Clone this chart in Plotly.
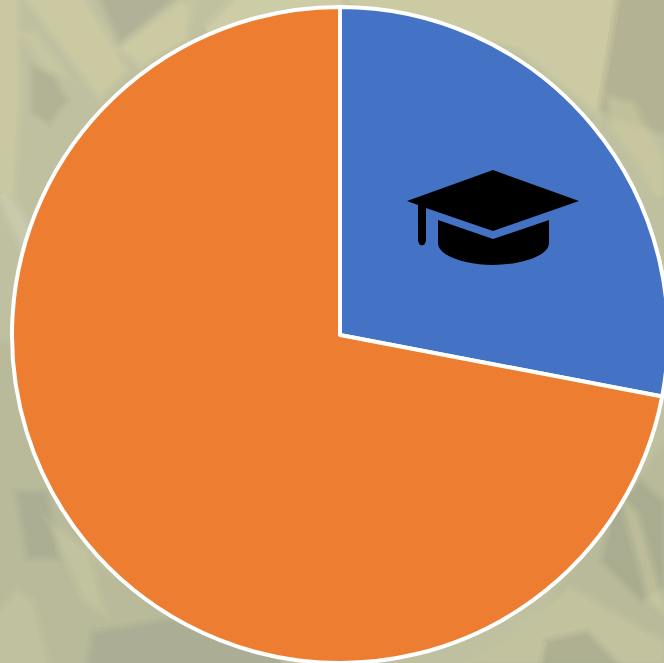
import plotly.graph_objects as go

labels = ["Graduates", "Others"]
values = [28, 72]
colors = ["#4472C4", "#ED7D31"]

FIG_W, FIG_H = 680, 670
ML, MR, MT, MB = 12, 12, 7, 7
PW, PH = FIG_W - ML - MR, FIG_H - MT - MB


def px(x):
    return (x - ML) / PW


def py(y):
    return 1 - (y - MT) / PH


def poly(points):
    return "M " + " L ".join(f"{px(x):.5f},{py(y):.5f}" for x, y in points) + " Z"


backdrop = [
    ("#D6D3A6", [(0, 0), (14, 0), (16, 100), (10, 190), (0, 190)]),
    ("#A3A38F", [(105, 0), (165, 0), (122, 36)]),
    ("#D9D5A6", [(32, 0), (80, 0), (122, 70), (100, 92)]),
    ("#DAD7AA", [(125, 48), (182, 6), (190, 6), (182, 38), (142, 62)]),
    ("#C3C5A4", [(190, 0), (228, 0), (194, 36)]),
    ("#DEDBB0", [(238, 0), (340, 0), (340, 5), (244, 18), (208, 30)]),
    ("#A5A68E", [(36, 72), (50, 78), (62, 100), (48, 118), (36, 110)]),
    ("#D1CEA3", [(26, 36), (34, 36), (58, 70), (50, 68)]),
    ("#D7D6BE", [(2, 196), (12, 204), (28, 232), (22, 240)]),
    ("#DAD6A8", [(350, 0), (612, 0), (596, 108), (520, 46)]),
    ("#A9A88A", [(622, 0), (664, 0), (664, 130), (614, 114), (604, 108)]),
    ("#D2CFA3", [(612, 102), (630, 106), (660, 160), (660, 195), (640, 158), (616, 128)]),
    ("#B5B698", [(664, 450), (664, 663), (480, 663), (540, 620)]),
    ("#CFCDA6", [(570, 592), (660, 644), (660, 660), (480, 660), (505, 644)]),
    ("#9D9F88", [(616, 514), (640, 486), (660, 504), (660, 586), (642, 596), (606, 560)]),
    ("#D3D1A6", [(628, 510), (634, 516), (660, 604), (652, 598)]),
    ("#9B9E84", [(550, 644), (586, 636), (612, 663), (546, 663)]),
    ("#B3B598", [(0, 345), (16, 345), (90, 565), (200, 635), (285, 663), (0, 663)]),
    ("#A2A58F", [(21, 496), (44, 496), (54, 554), (31, 554)]),
    ("#CFCFA4", [(60, 536), (84, 552), (98, 604), (88, 598)]),
    ("#CCCBA4", [(18, 596), (30, 604), (44, 663), (0, 663), (0, 616)]),
    ("#A0A38F", [(96, 636), (178, 622), (280, 663), (92, 663)]),
]

shapes = [
    dict(type="rect", xref="paper", yref="paper", x0=px(0), x1=px(FIG_W), y0=py(0), y1=py(FIG_H),
         fillcolor="#BFC09F", line_width=0, layer="below")
]
for color, pts in backdrop:
    for width, alpha in ((16, 0.14), (9, 0.18), (3, 0.25)):
        shapes.append(dict(type="path", xref="paper", yref="paper", path=poly(pts), fillcolor=color,
                           opacity=alpha, line=dict(color=color, width=width), layer="below"))

board = [(493, 170), (579, 201), (493, 231), (426, 208), (426, 241), (424.5, 244.5), (422, 245.5),
         (419.5, 244.5), (418, 241), (418, 205), (407, 201)]
cap_base = (
    f"M {px(438)},{py(220)} L {px(493)},{py(239)} L {px(549)},{py(220)} L {px(549)},{py(243)} "
    f"C {px(549)},{py(256)} {px(520)},{py(265)} {px(493)},{py(265)} "
    f"C {px(466)},{py(265)} {px(438)},{py(256)} {px(438)},{py(243)} Z"
)
shapes.append(dict(type="path", xref="paper", yref="paper", path=poly(board), fillcolor="black",
                   line_width=0, layer="above"))
shapes.append(dict(type="path", xref="paper", yref="paper", path=cap_base, fillcolor="black",
                   line_width=0, layer="above"))

fig = go.Figure(
    go.Pie(
        labels=labels,
        values=values,
        sort=False,
        direction="clockwise",
        rotation=0,
        textinfo="none",
        hoverinfo="label+percent",
        marker=dict(colors=colors, line=dict(color="white", width=4)),
        showlegend=False,
    )
)
fig.update_layout(
    width=FIG_W,
    height=FIG_H,
    margin=dict(l=ML, r=MR, t=MT, b=MB, pad=0, autoexpand=False),
    paper_bgcolor="#BFC09F",
    shapes=shapes,
)
fig.write_html(
    "out.html",
    config={"displayModeBar": False},
    post_script="document.body.style.margin='0';document.body.style.overflow='hidden';",
)
